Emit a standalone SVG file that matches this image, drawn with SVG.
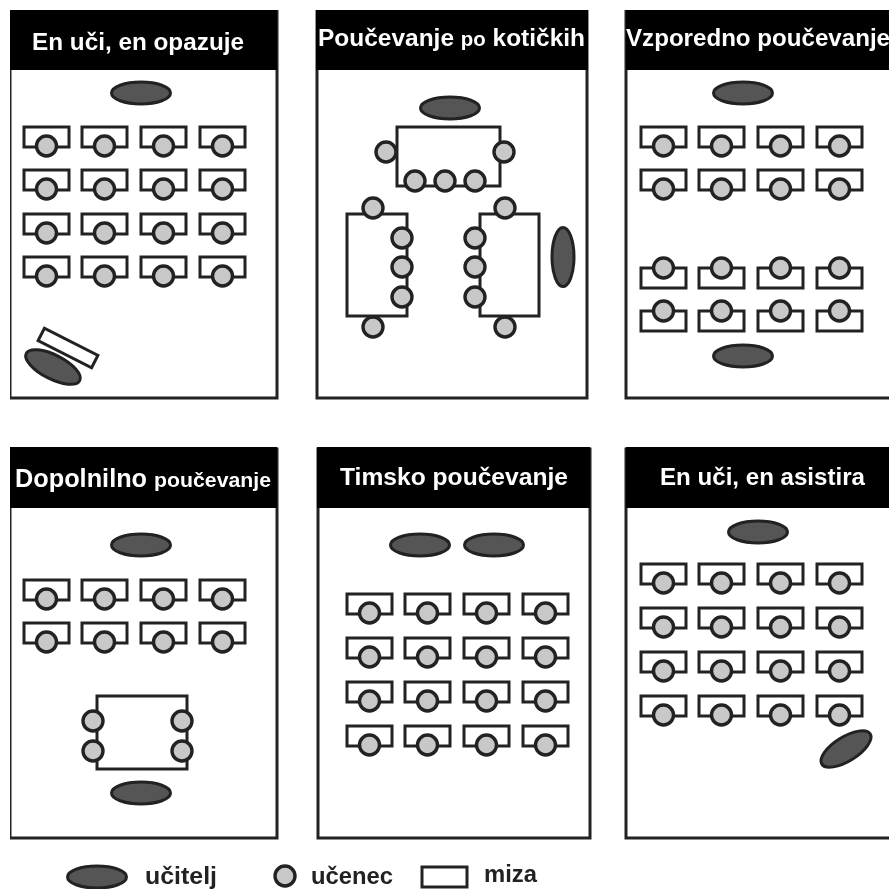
<svg xmlns="http://www.w3.org/2000/svg" width="889" height="889" viewBox="0 0 889 889">
<style>
.frame{fill:#fff;stroke:#222;stroke-width:3}
.band{fill:#000}
.title{font-family:"Liberation Sans",Arial,sans-serif;font-weight:700;font-size:24px;fill:#fff}
.small{font-size:20px}
.legend{font-family:"Liberation Sans",Arial,sans-serif;font-weight:700;font-size:23px;fill:#222}
.desk,.table{fill:#fff;stroke:#222;stroke-width:3}
.student{fill:#c8c8c8;stroke:#222;stroke-width:3.4}
.teacher{fill:#555;stroke:#222;stroke-width:3}
</style>
<defs>
<filter id="soft" x="0" y="0" width="100%" height="100%"><feGaussianBlur stdDeviation="0.45"/></filter>
<ellipse id="t" class="teacher" cx="0" cy="0" rx="29.5" ry="11"/>
<circle id="s" class="student" cx="0" cy="0" r="10"/>
<g id="dd"><rect class="desk" x="0" y="0" width="45" height="20"/><use href="#s" x="22.5" y="19"/></g>
<g id="du"><rect class="desk" x="0" y="0" width="45" height="20"/><use href="#s" x="22.5" y="0"/></g>
<g id="row"><use href="#dd" x="0"/><use href="#dd" x="58"/><use href="#dd" x="117"/><use href="#dd" x="176"/></g>
<g id="rowu"><use href="#du" x="0"/><use href="#du" x="58"/><use href="#du" x="117"/><use href="#du" x="176"/></g>
</defs>
<rect width="889" height="889" fill="#fff"/>
<g filter="url(#soft)">
<g id="panel-1">
<rect class="frame" x="10" y="11" width="267" height="387"/><rect class="band" x="10" y="10" width="267" height="60"/>
<text class="title" x="32" y="50" textLength="212" lengthAdjust="spacingAndGlyphs">En uči, en opazuje</text>
<use href="#t" x="141" y="93"/>
<use href="#row" x="24" y="127"/><use href="#row" x="24" y="170"/><use href="#row" x="24" y="214"/><use href="#row" x="24" y="257"/>
<rect class="desk" x="38" y="341" width="60" height="14" transform="rotate(27 68 348)"/>
<ellipse class="teacher" cx="53" cy="367" rx="30" ry="12" transform="rotate(27 53 367)"/>
</g>
<g id="panel-2">
<rect class="frame" x="317" y="11" width="270" height="387"/><rect class="band" x="316" y="10" width="272" height="60"/>
<text class="title" x="318" y="46" textLength="267" lengthAdjust="spacingAndGlyphs">Poučevanje <tspan class="small">po</tspan> kotičkih</text>
<use href="#t" x="450" y="108"/>
<rect class="table" x="397" y="127" width="103" height="59"/>
<use href="#s" x="386" y="152"/><use href="#s" x="504" y="152"/><use href="#s" x="415" y="181"/><use href="#s" x="445" y="181"/><use href="#s" x="475" y="181"/>
<rect class="table" x="347" y="214" width="60" height="102"/>
<use href="#s" x="373" y="208"/><use href="#s" x="373" y="327"/><use href="#s" x="402" y="238"/><use href="#s" x="402" y="267"/><use href="#s" x="402" y="297"/>
<rect class="table" x="480" y="214" width="59" height="102"/>
<use href="#s" x="505" y="208"/><use href="#s" x="505" y="327"/><use href="#s" x="475" y="238"/><use href="#s" x="475" y="267"/><use href="#s" x="475" y="297"/>
<ellipse class="teacher" cx="563" cy="257" rx="11" ry="29.5"/>
</g>
<g id="panel-3">
<rect class="frame" x="626" y="11" width="270" height="387"/><rect class="band" x="626" y="10" width="263" height="60"/>
<text class="title" x="626" y="46" textLength="264" lengthAdjust="spacingAndGlyphs">Vzporedno poučevanje</text>
<use href="#t" x="743" y="93"/>
<use href="#row" x="641" y="127"/><use href="#row" x="641" y="170"/>
<use href="#rowu" x="641" y="268"/><use href="#rowu" x="641" y="311"/>
<use href="#t" x="743" y="356"/>
</g>
<g id="panel-4">
<rect class="frame" x="10" y="449" width="267" height="389"/><rect class="band" x="10" y="447" width="267" height="61"/>
<text class="title" x="15" y="487" textLength="256" lengthAdjust="spacingAndGlyphs" style="font-size:25px">Dopolnilno <tspan style="font-size:21px">poučevanje</tspan></text>
<use href="#t" x="141" y="545"/>
<use href="#row" x="24" y="580"/><use href="#row" x="24" y="623"/>
<rect class="table" x="97" y="696" width="90" height="73"/>
<use href="#s" x="93" y="721"/><use href="#s" x="93" y="751"/><use href="#s" x="182" y="721"/><use href="#s" x="182" y="751"/>
<use href="#t" x="141" y="793"/>
</g>
<g id="panel-5">
<rect class="frame" x="318" y="449" width="272" height="389"/><rect class="band" x="317" y="447" width="273" height="61"/>
<text class="title" x="340" y="485" textLength="228" lengthAdjust="spacingAndGlyphs">Timsko poučevanje</text>
<use href="#t" x="420" y="545"/><use href="#t" x="494" y="545"/>
<use href="#row" x="347" y="594"/><use href="#row" x="347" y="638"/><use href="#row" x="347" y="682"/><use href="#row" x="347" y="726"/>
</g>
<g id="panel-6">
<rect class="frame" x="626" y="449" width="270" height="389"/><rect class="band" x="626" y="447" width="263" height="61"/>
<text class="title" x="660" y="485" textLength="205" lengthAdjust="spacingAndGlyphs">En uči, en asistira</text>
<use href="#t" x="758" y="532"/>
<use href="#row" x="641" y="564"/><use href="#row" x="641" y="608"/><use href="#row" x="641" y="652"/><use href="#row" x="641" y="696"/>
<ellipse class="teacher" cx="846" cy="749" rx="28.5" ry="12" transform="rotate(-32 846 749)"/>
</g>
<g id="legend">
<use href="#t" x="97" y="877"/><text class="legend" x="145" y="884" textLength="72" lengthAdjust="spacingAndGlyphs">učitelj</text>
<use href="#s" x="285" y="876"/><text class="legend" x="311" y="884" textLength="82" lengthAdjust="spacingAndGlyphs">učenec</text>
<rect class="desk" x="422" y="867" width="45" height="20"/><text class="legend" x="484" y="882" textLength="53" lengthAdjust="spacingAndGlyphs">miza</text>
</g>
</g>
<g id="connectors"/>
</svg>
